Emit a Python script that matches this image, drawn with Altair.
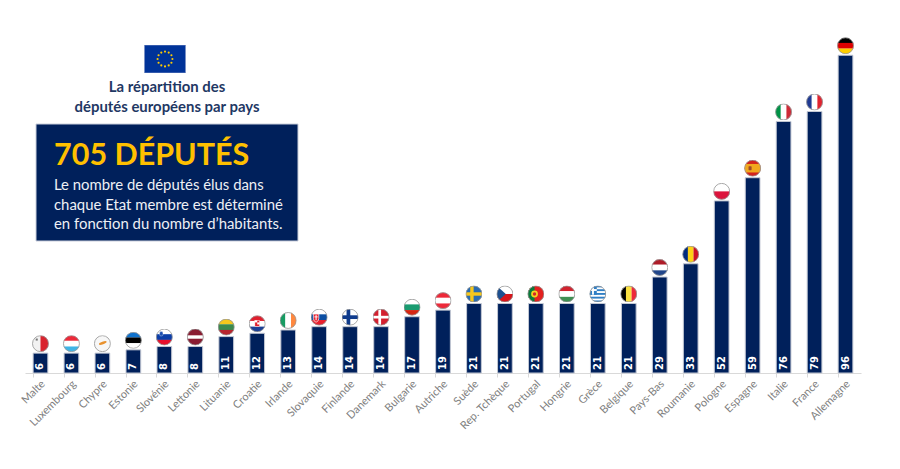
import base64
import altair as alt
import pandas as pd

countries = ["Malte", "Luxembourg", "Chypre", "Estonie", "Slovénie", "Lettonie", "Lituanie", "Croatie", "Irlande",
             "Slovaquie", "Finlande", "Danemark", "Bulgarie", "Autriche", "Suède", "Rep. Tchèque", "Portugal",
             "Hongrie", "Grèce", "Belgique", "Pays-Bas", "Roumanie", "Pologne", "Espagne", "Italie", "France", "Allemagne"]
values = [6, 6, 6, 7, 8, 8, 11, 12, 13, 14, 14, 14, 17, 19, 21, 21, 21, 21, 21, 21, 29, 33, 52, 59, 76, 79, 96]

title_lines = ["La répartition des", "députés européens par pays"]
box_headline = "705 DÉPUTÉS"
box_lines = ["Le nombre de députés élus dans", "chaque Etat membre est déterminé", "en fonction du nombre d’habitants."]

NAVY = "#00205b"


def h(*cols):
    n = len(cols)
    return "".join(f'<rect x="0" y="{i*100/n:.2f}" width="100" height="{100/n+.5:.2f}" fill="{c}"/>' for i, c in enumerate(cols))


def v(*cols):
    n = len(cols)
    return "".join(f'<rect y="0" x="{i*100/n:.2f}" height="100" width="{100/n+.5:.2f}" fill="{c}"/>' for i, c in enumerate(cols))


def cross(bg, fg, cx=38, w=20):
    return (f'<rect width="100" height="100" fill="{bg}"/><rect x="{cx-w/2}" width="{w}" height="100" fill="{fg}"/>'
            f'<rect y="{50-w/2}" width="100" height="{w}" fill="{fg}"/>')


flags = {
    "Malte": v("#f2f2f2", "#d9232e") + '<rect x="22" y="20" width="12" height="12" fill="#777"/>',
    "Luxembourg": h("#ed2939", "#ffffff", "#3fb4e6"),
    "Chypre": '<rect width="100" height="100" fill="#f7f7f7"/><ellipse cx="52" cy="46" rx="24" ry="8" fill="#e8912d" transform="rotate(-20 52 46)"/>',
    "Estonie": h("#0f72ce", "#000000", "#ffffff"),
    "Slovénie": h("#ffffff", "#0b3ea8", "#e8112d") + '<rect x="22" y="18" width="20" height="26" rx="8" fill="#1d4fb0" stroke="#fff" stroke-width="2"/>',
    "Lettonie": '<rect width="100" height="100" fill="#8a1c31"/><rect y="40" width="100" height="20" fill="#fff"/>',
    "Lituanie": h("#f6c81d", "#3c8a4e", "#b8262e"),
    "Croatie": h("#e0202e", "#ffffff", "#1b3f94") + '<rect x="36" y="30" width="28" height="36" fill="#e0202e" stroke="#fff" stroke-width="3"/><rect x="36" y="30" width="14" height="12" fill="#fff"/><rect x="50" y="42" width="14" height="12" fill="#fff"/>',
    "Irlande": v("#169b62", "#ffffff", "#ff883e"),
    "Slovaquie": h("#ffffff", "#0b4ea2", "#e8212e") + '<path d="M16 32 H48 V58 Q48 74 32 80 Q16 74 16 58 Z" fill="#e8212e" stroke="#fff" stroke-width="4"/><rect x="29" y="38" width="6" height="30" fill="#fff"/><rect x="22" y="46" width="20" height="5" fill="#fff"/>',
    "Finlande": cross("#ffffff", "#0f3b8c", 40, 22),
    "Danemark": cross("#d3202f", "#ffffff", 42, 16),
    "Bulgarie": h("#ffffff", "#1a9b70", "#d62612"),
    "Autriche": h("#ed2939", "#ffffff", "#ed2939"),
    "Suède": cross("#2b6cb0", "#f7c71c", 38, 20),
    "Rep. Tchèque": h("#ffffff", "#d7141a") + '<path d="M0 0 L55 50 L0 100 Z" fill="#1d4f8f"/>',
    "Portugal": '<rect width="100" height="100" fill="#e3201f"/><rect width="42" height="100" fill="#0a7a3b"/><circle cx="42" cy="50" r="20" fill="#f3d21f"/><circle cx="42" cy="50" r="10" fill="#d3242b"/>',
    "Hongrie": h("#d2232f", "#ffffff", "#3f8f52"),
    "Grèce": '<rect width="100" height="100" fill="#ffffff"/>' + "".join(f'<rect y="{y}" width="100" height="11" fill="#2f7ec4"/>' for y in (0, 22, 44, 66, 88)) + '<rect width="44" height="54" fill="#2f7ec4"/><rect x="16" width="11" height="54" fill="#fff"/><rect y="21" width="44" height="11" fill="#fff"/>',
    "Belgique": v("#000000", "#fae042", "#ed2939"),
    "Pays-Bas": h("#ae1c28", "#ffffff", "#21468b"),
    "Roumanie": v("#002b7f", "#fcd116", "#ce1126"),
    "Pologne": h("#ffffff", "#dc143c"),
    "Espagne": '<rect width="100" height="100" fill="#d3231e"/><rect y="25" width="100" height="50" fill="#f1a81f"/><rect x="26" y="38" width="18" height="24" rx="4" fill="#9c4a2a"/>',
    "Italie": v("#009246", "#ffffff", "#ce2b37"),
    "France": v("#1f3a93", "#ffffff", "#e1232f"),
    "Allemagne": h("#000000", "#dd0000", "#ffce00"),
}


def to_uri(svg):
    return "data:image/svg+xml;base64," + base64.b64encode(svg.encode()).decode()


def flag_uri(body):
    return to_uri('<svg xmlns="http://www.w3.org/2000/svg" width="64" height="64" viewBox="0 0 100 100">'
                  '<defs><clipPath id="c"><circle cx="50" cy="50" r="48"/></clipPath></defs>'
                  f'<g clip-path="url(#c)">{body}</g>'
                  '<circle cx="50" cy="50" r="47" fill="none" stroke="#9a9a9a" stroke-width="5"/></svg>')


eu_stars = "".join(
    f'<circle cx="{c[0]}" cy="{c[1]}" r="2.6" fill="#ffcc00"/>'
    for c in [(50, 16), (59, 18.4), (65.6, 25), (68, 34), (65.6, 43), (59, 49.6), (50, 52), (41, 49.6), (34.4, 43), (32, 34), (34.4, 25), (41, 18.4)]
)
eu_uri = to_uri('<svg xmlns="http://www.w3.org/2000/svg" width="168" height="112" viewBox="0 0 100 68">'
                f'<rect width="100" height="68" fill="#003399" stroke="#7f93c8" stroke-width="2"/>{eu_stars}</svg>')

df = pd.DataFrame({"pays": countries, "deputes": values, "zero": [0] * len(values),
                   "flag": [flag_uri(flags[c]) for c in countries]})

x = alt.X("pays:N", sort=countries, title=None,
          scale=alt.Scale(paddingInner=0.525, paddingOuter=0.2625),
          axis=alt.Axis(labelAngle=-45, labelAlign="right", labelBaseline="middle", labelFont="Lato", labelFontSize=11,
                        labelColor="#808080", labelPadding=5, labelOffset=3, labelOverlap=False, domainColor="#d9d9d9",
                        tickColor="#d9d9d9", tickSize=4, bandPosition=0, grid=False, labelLimit=120))
yscale = alt.Scale(domain=[0, 100], nice=False)
y = alt.Y("deputes:Q", title=None, scale=yscale, axis=None)
y0 = alt.Y("zero:Q", title=None, scale=yscale, axis=None)

bars = alt.Chart(df).mark_bar(color=NAVY, stroke="#c3c8d4", strokeWidth=1).encode(x=x, y=y)
numbers = alt.Chart(df).mark_text(angle=270, align="left", baseline="middle", dx=3, color="white", font="DejaVu Sans",
                                  fontWeight="bold", fontSize=10).encode(x=x, y=y0, text="deputes:Q")
icons = alt.Chart(df).mark_image(width=17, height=17, baseline="bottom", yOffset=-1).encode(x=x, y=y, url="flag:N")

panel = alt.Chart(pd.DataFrame({"a": [0]})).mark_rect(color=NAVY, stroke="#c9cedb").encode(
    x=alt.value(11), x2=alt.value(273), y=alt.value(82), y2=alt.value(199))
eu = alt.Chart(pd.DataFrame({"a": [0]})).mark_image(url=eu_uri, width=42, height=28, align="left", baseline="top").encode(
    x=alt.value(119), y=alt.value(3))


def text_layer(txt, x_px, y_px, **kw):
    return alt.Chart(pd.DataFrame({"t": [txt]})).mark_text(font="Lato", baseline="middle", **kw).encode(
        x=alt.value(x_px), y=alt.value(y_px), text="t:N")


t1 = text_layer(title_lines[0], 142, 46, align="center", fontWeight="bold", fontSize=14.9, color="#1f3864")
t2 = text_layer(title_lines[1], 142, 65.5, align="center", fontWeight="bold", fontSize=14.9, color="#1f3864")
head = text_layer(box_headline, 29, 114, align="left", fontWeight="bold", fontSize=30.5, color="#ffc000")
b1 = text_layer(box_lines[0], 29, 144, align="left", fontSize=14.9, color="#eef0f5")
b2 = text_layer(box_lines[1], 29, 164, align="left", fontSize=14.9, color="#eef0f5")
b3 = text_layer(box_lines[2], 29, 182.5, align="left", fontSize=14.9, color="#eef0f5")

chart = alt.layer(bars, numbers, icons, panel, eu, t1, t2, head, b1, b2, b3).properties(
    width=836, height=331, background="white",
    padding={"left": 17, "top": 34, "right": 20, "bottom": 60},
    autosize=alt.AutoSizeParams(type="none"),
).configure_view(stroke=None)

chart.save("out.html", embed_options={"renderer": "svg", "actions": False})
